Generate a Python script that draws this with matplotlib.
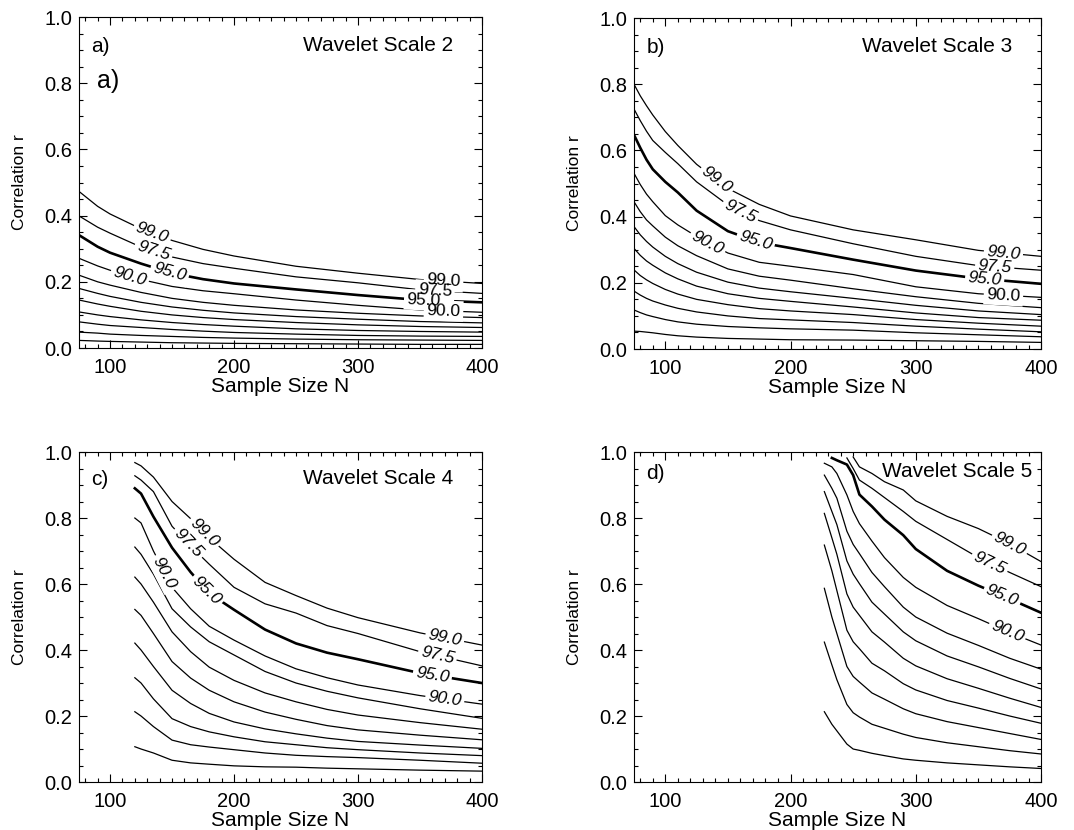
import numpy as np
import matplotlib
matplotlib.use("Agg")
import matplotlib.pyplot as plt
from matplotlib.ticker import MultipleLocator

plt.rcParams['font.family'] = ['Liberation Sans', 'DejaVu Sans']

nan = np.nan

# percentile levels, top curve first (only the first four carry a label)
levels = ["99.0", "97.5", "95.0", "90.0", "80.0", "70.0", "60.0", "50.0", "40.0", "30.0", "20.0"]

# wavelet scale 2
n_scale2 = [75, 90, 100, 125, 150, 175, 200, 250, 300, 350, 400]
r_scale2 = [
    [0.473, 0.428, 0.405, 0.360, 0.325, 0.298, 0.278, 0.247, 0.226, 0.207, 0.195],
    [0.399, 0.365, 0.347, 0.305, 0.275, 0.255, 0.241, 0.215, 0.197, 0.176, 0.165],
    [0.341, 0.306, 0.288, 0.255, 0.226, 0.208, 0.195, 0.177, 0.160, 0.145, 0.138],
    [0.271, 0.248, 0.235, 0.207, 0.186, 0.173, 0.164, 0.145, 0.129, 0.115, 0.108],
    [0.220, 0.200, 0.190, 0.168, 0.150, 0.138, 0.129, 0.115, 0.105, 0.097, 0.092],
    [0.180, 0.165, 0.156, 0.138, 0.124, 0.114, 0.106, 0.095, 0.087, 0.080, 0.076],
    [0.145, 0.133, 0.126, 0.111, 0.100, 0.092, 0.086, 0.077, 0.070, 0.065, 0.062],
    [0.109, 0.100, 0.095, 0.085, 0.077, 0.071, 0.066, 0.058, 0.053, 0.050, 0.048],
    [0.079, 0.072, 0.068, 0.062, 0.056, 0.051, 0.047, 0.042, 0.038, 0.036, 0.035],
    [0.048, 0.045, 0.042, 0.038, 0.035, 0.032, 0.030, 0.027, 0.025, 0.024, 0.023],
    [0.023, 0.021, 0.020, 0.018, 0.016, 0.015, 0.014, 0.013, 0.012, 0.011, 0.011],
]

# wavelet scale 3
n_scale3 = [75, 80, 85, 90, 100, 110, 125, 150, 175, 200, 250, 300, 350, 400]
r_scale3 = [
    [0.800, 0.765, 0.735, 0.707, 0.657, 0.615, 0.558, 0.485, 0.437, 0.402, 0.360, 0.330, 0.298, 0.280],
    [0.725, 0.690, 0.658, 0.630, 0.594, 0.560, 0.505, 0.435, 0.388, 0.360, 0.318, 0.280, 0.252, 0.238],
    [0.647, 0.608, 0.572, 0.543, 0.505, 0.473, 0.418, 0.356, 0.322, 0.305, 0.270, 0.237, 0.213, 0.197],
    [0.531, 0.497, 0.468, 0.445, 0.403, 0.375, 0.340, 0.290, 0.262, 0.250, 0.225, 0.188, 0.167, 0.156],
    [0.445, 0.415, 0.390, 0.372, 0.338, 0.312, 0.282, 0.242, 0.220, 0.208, 0.182, 0.158, 0.138, 0.125],
    [0.370, 0.345, 0.325, 0.308, 0.280, 0.258, 0.232, 0.202, 0.184, 0.173, 0.153, 0.132, 0.115, 0.104],
    [0.304, 0.283, 0.266, 0.253, 0.230, 0.212, 0.190, 0.167, 0.153, 0.144, 0.127, 0.109, 0.095, 0.087],
    [0.239, 0.222, 0.209, 0.198, 0.180, 0.166, 0.150, 0.134, 0.122, 0.115, 0.104, 0.089, 0.078, 0.069],
    [0.175, 0.163, 0.153, 0.145, 0.133, 0.123, 0.112, 0.100, 0.092, 0.088, 0.080, 0.069, 0.060, 0.052],
    [0.118, 0.110, 0.103, 0.098, 0.089, 0.082, 0.075, 0.068, 0.064, 0.061, 0.057, 0.049, 0.043, 0.037],
    [0.054, 0.053, 0.051, 0.049, 0.044, 0.040, 0.036, 0.032, 0.030, 0.028, 0.027, 0.025, 0.023, 0.020],
]

# wavelet scale 4
n_scale4 = [120, 125, 135, 150, 165, 180, 200, 225, 250, 275, 300, 350, 400]
r_scale4 = [
    [0.968, 0.958, 0.924, 0.850, 0.798, 0.740, 0.675, 0.605, 0.565, 0.527, 0.498, 0.452, 0.415],
    [0.928, 0.915, 0.880, 0.775, 0.715, 0.660, 0.590, 0.540, 0.512, 0.474, 0.450, 0.395, 0.352],
    [0.890, 0.874, 0.804, 0.710, 0.636, 0.572, 0.522, 0.462, 0.420, 0.392, 0.372, 0.330, 0.300],
    [0.800, 0.785, 0.700, 0.590, 0.525, 0.472, 0.430, 0.382, 0.343, 0.316, 0.294, 0.262, 0.236],
    [0.712, 0.690, 0.630, 0.525, 0.470, 0.425, 0.385, 0.335, 0.300, 0.275, 0.255, 0.222, 0.193],
    [0.621, 0.600, 0.545, 0.455, 0.395, 0.348, 0.308, 0.270, 0.243, 0.220, 0.203, 0.180, 0.160],
    [0.523, 0.505, 0.450, 0.365, 0.315, 0.278, 0.243, 0.212, 0.190, 0.171, 0.158, 0.142, 0.128],
    [0.421, 0.400, 0.350, 0.278, 0.238, 0.208, 0.182, 0.161, 0.146, 0.133, 0.123, 0.112, 0.102],
    [0.316, 0.300, 0.252, 0.192, 0.168, 0.152, 0.137, 0.122, 0.113, 0.104, 0.098, 0.088, 0.080],
    [0.213, 0.200, 0.168, 0.127, 0.113, 0.106, 0.098, 0.088, 0.081, 0.077, 0.074, 0.066, 0.057],
    [0.107, 0.100, 0.088, 0.066, 0.058, 0.054, 0.049, 0.046, 0.045, 0.042, 0.040, 0.036, 0.033],
]

# wavelet scale 5
n_scale5 = [227, 233, 237, 245, 250, 255, 265, 275, 290, 300, 325, 350, 375, 400]
r_scale5 = [
    [nan, nan, nan, nan, 0.985, 0.955, 0.935, 0.910, 0.885, 0.852, 0.805, 0.768, 0.722, 0.668],
    [nan, nan, nan, 0.982, 0.950, 0.915, 0.890, 0.862, 0.820, 0.790, 0.735, 0.680, 0.635, 0.592],
    [nan, 0.982, 0.975, 0.962, 0.930, 0.871, 0.835, 0.795, 0.748, 0.706, 0.640, 0.595, 0.555, 0.513],
    [0.966, 0.955, 0.935, 0.870, 0.820, 0.783, 0.730, 0.680, 0.620, 0.590, 0.535, 0.495, 0.453, 0.415],
    [0.930, 0.890, 0.860, 0.760, 0.720, 0.692, 0.635, 0.592, 0.530, 0.500, 0.451, 0.414, 0.375, 0.342],
    [0.880, 0.820, 0.780, 0.670, 0.630, 0.601, 0.545, 0.509, 0.455, 0.428, 0.382, 0.349, 0.314, 0.282],
    [0.814, 0.740, 0.690, 0.570, 0.530, 0.505, 0.455, 0.424, 0.375, 0.352, 0.313, 0.284, 0.254, 0.226],
    [0.718, 0.640, 0.580, 0.460, 0.425, 0.404, 0.360, 0.337, 0.298, 0.279, 0.247, 0.224, 0.200, 0.178],
    [0.587, 0.500, 0.450, 0.350, 0.320, 0.303, 0.270, 0.251, 0.222, 0.207, 0.183, 0.165, 0.147, 0.129],
    [0.424, 0.355, 0.310, 0.235, 0.210, 0.197, 0.175, 0.163, 0.145, 0.135, 0.119, 0.107, 0.095, 0.085],
    [0.213, 0.175, 0.155, 0.115, 0.100, 0.096, 0.087, 0.080, 0.070, 0.066, 0.058, 0.052, 0.046, 0.041],
]

# where the inline labels sit (sample size N), for 99.0, 97.5, 95.0, 90.0
lab_scale2 = [[134, 135, 148, 116], [369, 362, 353, 369]]
lab_scale3 = [[141, 160, 172, 134], [370, 363, 355, 370]]
lab_scale4 = [[176, 163, 178, 144], [370, 364, 360, 370]]
lab_scale5 = [[375, 359, 369, 373]]

panels = [
    ("a)", "Wavelet Scale 2", n_scale2, r_scale2, lab_scale2, [0.0736, 0.5807, 0.3752, 0.3988], (0.557, 0.915)),
    ("b)", "Wavelet Scale 3", n_scale3, r_scale3, lab_scale3, [0.5903, 0.5795, 0.3790, 0.3988], (0.559, 0.915)),
    ("c)", "Wavelet Scale 4", n_scale4, r_scale4, lab_scale4, [0.0736, 0.0578, 0.3752, 0.3976], (0.557, 0.921)),
    ("d)", "Wavelet Scale 5", n_scale5, r_scale5, lab_scale5, [0.5903, 0.0578, 0.3790, 0.3976], (0.609, 0.940)),
]


def put_label(ax, n, r, n0, text):
    n = np.asarray(n, float)
    r = np.asarray(r, float)
    ok = ~np.isnan(r)
    r0 = np.interp(n0, n[ok], r[ok])
    p1 = ax.transData.transform((n0 - 6, np.interp(n0 - 6, n[ok], r[ok])))
    p2 = ax.transData.transform((n0 + 6, np.interp(n0 + 6, n[ok], r[ok])))
    ang = np.degrees(np.arctan2(p2[1] - p1[1], p2[0] - p1[0]))
    style = 'italic' if abs(ang) > 4 else 'normal'
    # white box first to cut the line, then the text on top
    ax.text(n0, r0, text, rotation=ang, rotation_mode='anchor', ha='center', va='center',
            fontsize=12.5, style=style, color='none', zorder=4,
            bbox=dict(fc='white', ec='none', pad=2.0))
    ax.text(n0, r0, text, rotation=ang, rotation_mode='anchor', ha='center', va='center',
            fontsize=12.5, style=style, color='black', zorder=5)


fig = plt.figure(figsize=(10.74, 8.30), dpi=100)

for letter, title, n, curves, labpos, rect, tpos in panels:
    ax = fig.add_axes(rect)
    ax.set_xlim(75, 400)
    ax.set_ylim(0, 1)
    for i, r in enumerate(curves):
        lw = 1.9 if levels[i] == "95.0" else 0.9
        ax.plot(n, r, color='black', lw=lw, zorder=2)
    for row in labpos:
        for i, n0 in enumerate(row):
            put_label(ax, n, curves[i], n0, levels[i])

    ax.xaxis.set_major_locator(MultipleLocator(100))
    ax.xaxis.set_minor_locator(MultipleLocator(10))
    ax.yaxis.set_major_locator(MultipleLocator(0.2))
    ax.yaxis.set_minor_locator(MultipleLocator(0.05))
    ax.yaxis.set_major_formatter(plt.FormatStrFormatter('%.1f'))
    ax.tick_params(which='both', direction='in', top=True, right=True, width=0.8, labelsize=14.5)
    ax.tick_params(which='major', length=6)
    ax.tick_params(which='minor', length=3)
    ax.tick_params(axis='x', pad=7.5)
    ax.tick_params(axis='y', pad=5)
    for s in ax.spines.values():
        s.set_linewidth(0.8)

    ax.set_xlabel("Sample Size N", fontsize=15, labelpad=0)
    ax.set_ylabel("Correlation r", fontsize=12.5, labelpad=12)

    ax.text(0.031, tpos[1] - 0.005, letter, transform=ax.transAxes, fontsize=15, ha='left', va='center')
    ax.text(tpos[0], tpos[1], title, transform=ax.transAxes, fontsize=15, ha='left', va='center')
    if letter == "a)":
        ax.text(0.045, 0.807, "a)", transform=ax.transAxes, fontsize=18, ha='left', va='center')

fig.savefig("out.png", dpi=100)
